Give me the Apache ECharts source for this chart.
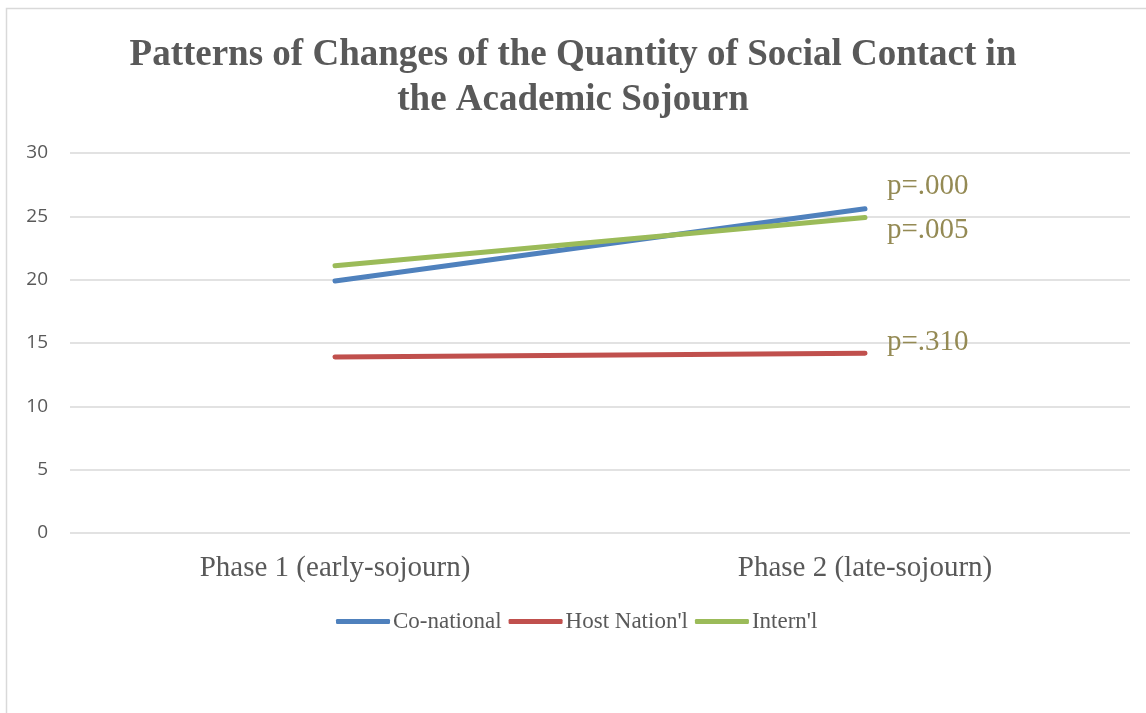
<!DOCTYPE html>
<html>
<head>
<meta charset="utf-8">
<script src="https://cdn.jsdelivr.net/npm/echarts@6/dist/echarts.min.js"></script>
<style>
  html, body { margin: 0; padding: 0; background: #ffffff; }
  #chart { width: 1146px; height: 713px; }
</style>
</head>
<body>
<div id="chart"></div>
<script>
// Phases of the sojourn and mean quantity of social contact per network
const phases = ['Phase 1 (early-sojourn)', 'Phase 2 (late-sojourn)'];
const coNational = [19.9, 25.6];
const hostNational = [13.9, 14.2];
const international = [21.1, 24.9];
const pValues = ['p=.000', 'p=.310', 'p=.005'];
const seriesNames = ['Co-national', "Host Nation'l", "Intern'l"];

const serif = '"Liberation Serif", "Times New Roman", serif';
const textGray = '#595959';
const pColor = '#948A54';

function makeSeries(name, data, color, pText, offset) {
  return {
    name: name,
    type: 'line',
    data: data,
    symbol: 'none',
    lineStyle: { color: color, width: 5, cap: 'round' },
    itemStyle: { color: color },
    endLabel: {
      show: true,
      distance: 5,
      offset: offset,
      fontFamily: serif,
      fontSize: 29,
      color: pColor,
      formatter: function () { return pText; }
    },
    z: 3
  };
}

const chart = echarts.init(document.getElementById('chart'), null, { renderer: 'canvas' });
chart.setOption({
  animation: false,
  backgroundColor: '#ffffff',
  title: {
    text: 'Patterns of Changes of the Quantity of Social Contact in\nthe Academic Sojourn',
    left: 'center',
    top: 28,
    textStyle: {
      fontFamily: serif,
      fontWeight: 'bold',
      fontSize: 37,
      lineHeight: 45,
      color: textGray
    }
  },
  graphic: [{
    type: 'rect',
    shape: { x: 6.5, y: 8.5, width: 1300, height: 900 },
    style: { fill: 'none', stroke: '#D9D9D9', lineWidth: 1.5 },
    silent: true,
    z: -1
  }],
  legend: {
    bottom: 75,
    left: 331,
    itemWidth: 54,
    itemHeight: 5,
    itemGap: 7,
    icon: 'roundRect',
    data: seriesNames,
    textStyle: { fontFamily: serif, fontSize: 23, color: textGray, padding: [0, 0, 0, -2] }
  },
  grid: { left: 70, right: 16, top: 153, bottom: 180 },
  xAxis: {
    type: 'category',
    data: phases,
    boundaryGap: true,
    axisLine: { show: false },
    axisTick: { show: false },
    axisLabel: { fontFamily: serif, fontSize: 29, color: textGray, margin: 21 }
  },
  yAxis: {
    type: 'value',
    min: 0,
    max: 30,
    interval: 5,
    axisLine: { show: false },
    axisTick: { show: false },
    axisLabel: { fontFamily: '"Open Sans", "Liberation Sans", sans-serif', fontSize: 19, color: textGray, margin: 22 },
    splitLine: { lineStyle: { color: '#D9D9D9', width: 1.5 } }
  },
  series: [
    makeSeries(seriesNames[0], coNational, '#4F81BD', pValues[0], [17, -22]),
    makeSeries(seriesNames[1], hostNational, '#C0504D', pValues[1], [17, -11]),
    makeSeries(seriesNames[2], international, '#9BBB59', pValues[2], [17, 13])
  ]
});
</script>
</body>
</html>
